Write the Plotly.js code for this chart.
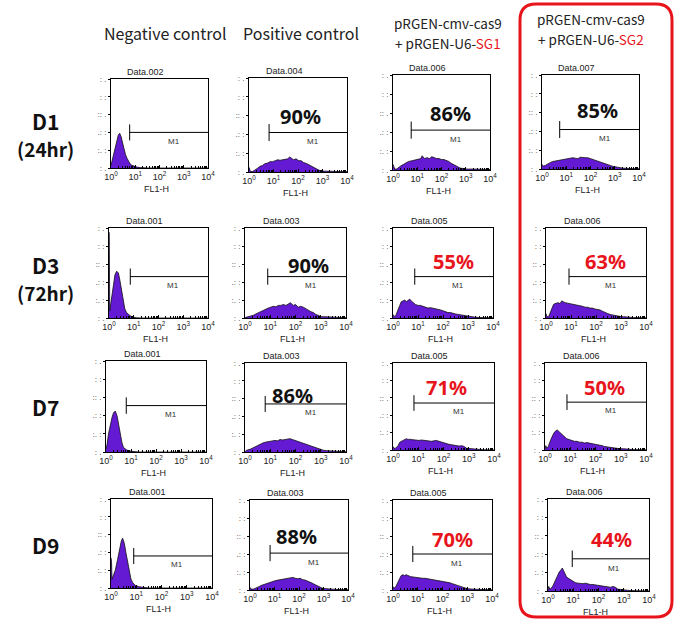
<!DOCTYPE html>
<html><head><meta charset="utf-8">
<script src="https://cdn.plot.ly/plotly-3.0.1.min.js"></script>
<style>html,body{margin:0;padding:0;background:#fff}#chart{width:681px;height:625px}</style>
</head><body><div id="chart"></div>
<script>
// ---------- DATA ----------
const dayLabels = ['D1', 'D3', 'D7', 'D9'];
const dayHours = ['(24hr)', '(72hr)', '', ''];
const dataNames = [
  'Data.002', 'Data.004', 'Data.006', 'Data.007',
  'Data.001', 'Data.003', 'Data.005', 'Data.006',
  'Data.001', 'Data.003', 'Data.005', 'Data.006',
  'Data.001', 'Data.003', 'Data.005', 'Data.006'
];
const tickLabels = ['10<sup>0</sup>', '10<sup>1</sup>', '10<sup>2</sup>', '10<sup>3</sup>', '10<sup>4</sup>'];
const tickDecades = [0, 1, 2, 3, 4];
// percent of cells in gate M1 ('' = not shown)
const percents = ['', '90%', '86%', '85%', '', '90%', '55%', '63%', '', '86%', '71%', '50%', '', '88%', '70%', '44%'];
// gate M1 start (log10 FL1-H) and level (% of plot height)
const gateStart = [0.77, 0.82, 0.75, 0.73, 0.86, 0.9, 0.87, 0.92, 0.81, 0.8, 0.83, 0.87, 0.9, 0.82, 0.8, 0.96];
const gateLevel = [40, 42, 42, 42, 46, 46, 46, 46, 51, 54, 54, 55, 36, 41, 40, 35];

// histograms: x = log10(FL1-H), y = counts as % of full scale
const d1NegX = [0, 0.05, 0.1, 0.15, 0.2, 0.25, 0.3, 0.36, 0.42, 0.48, 0.54, 0.6, 0.66, 0.72, 0.78, 0.86, 0.95, 1.07, 1.2, 1.35, 1.5, 4];
const d1NegY = [3, 9, 14, 20, 27, 33, 37, 39, 35, 28, 21, 15, 11, 8, 5, 3, 2, 1, 0.5, 0.3, 0, 0];
const d1PosX = [0, 0.03, 0.06, 0.15, 0.25, 0.35, 0.45, 0.55, 0.66, 0.76, 0.86, 0.96, 1.07, 1.17, 1.27, 1.37, 1.48, 1.58, 1.66, 1.72, 1.82, 1.92, 2.03, 2.13, 2.23, 2.35, 2.5, 2.62, 2.72, 2.85, 3.0, 3.3, 3.6, 4];
const d1PosY = [5, 2, 0.5, 0.5, 2, 4, 6, 7, 9, 9.5, 11, 11, 12, 13, 12.5, 13, 14, 14, 16, 15, 13, 14, 12, 12, 10, 9, 7, 5, 3.5, 2, 1, 0.8, 0.5, 0.3];
const d1Sg1X = [0, 0.03, 0.07, 0.15, 0.23, 0.33, 0.44, 0.54, 0.64, 0.74, 0.85, 0.95, 1.05, 1.15, 1.2, 1.3, 1.4, 1.5, 1.6, 1.7, 1.8, 1.9, 2.0, 2.1, 2.2, 2.3, 2.4, 2.5, 2.63, 2.77, 2.9, 3.04, 3.3, 3.6, 4];
const d1Sg1Y = [6, 3, 1, 1, 3, 4.5, 6, 7.5, 9, 9.5, 10, 10.5, 11, 12, 15, 12, 13, 12, 14, 13, 12, 12, 11, 11, 10, 9, 7, 6, 4, 2, 1.5, 1, 1, 0.8, 0.5];
const d1Sg2X = [0, 0.05, 0.15, 0.25, 0.35, 0.45, 0.55, 0.66, 0.76, 0.86, 0.96, 1.07, 1.17, 1.27, 1.37, 1.48, 1.58, 1.68, 1.78, 1.89, 2.0, 2.1, 2.2, 2.3, 2.4, 2.5, 2.6, 2.7, 2.8, 2.9, 3.0, 3.1, 3.3, 3.6, 4];
const d1Sg2Y = [5, 3, 4, 6, 7, 8, 8.5, 9, 9.5, 10, 10.5, 11, 11.5, 12, 11.5, 11, 12.5, 12, 12, 12, 11, 10, 9, 8, 7, 6, 5, 4, 3.5, 3, 2.5, 2, 1, 0.5, 0.3];

const d3NegX = [0, 0.01, 0.03, 0.05, 0.1, 0.17, 0.24, 0.31, 0.38, 0.44, 0.51, 0.58, 0.64, 0.71, 0.78, 0.85, 0.98, 1.1, 1.3, 4];
const d3NegY = [95, 95, 8, 12, 25, 40, 48, 52, 50, 42, 30, 18, 10, 6, 4, 2.5, 1, 0.3, 0, 0];
const d3PosX = [0, 0.07, 0.2, 0.33, 0.43, 0.53, 0.63, 0.73, 0.83, 0.92, 1.02, 1.12, 1.22, 1.32, 1.42, 1.52, 1.62, 1.72, 1.8, 1.91, 2.0, 2.11, 2.2, 2.31, 2.41, 2.51, 2.61, 2.71, 2.8, 2.9, 3.0, 3.1, 3.37, 3.7, 4];
const d3PosY = [0.5, 1, 2, 3, 4.5, 6, 7.5, 9, 10, 11, 12, 13, 12.5, 14, 14, 15, 14, 16, 17, 14, 15, 12, 13, 12, 10, 9, 7, 6, 4, 3, 1.5, 1.5, 1, 0.5, 0.3];
const d3Sg1X = [0, 0.03, 0.1, 0.2, 0.27, 0.33, 0.4, 0.47, 0.53, 0.6, 0.67, 0.73, 0.8, 0.9, 1.0, 1.1, 1.2, 1.3, 1.4, 1.5, 1.6, 1.7, 1.8, 1.9, 2.0, 2.1, 2.2, 2.3, 2.4, 2.5, 2.6, 2.7, 2.8, 2.95, 3.07, 3.25, 3.47, 4];
const d3Sg1Y = [4, 2, 2, 8, 14, 18, 19, 20, 18, 20, 21, 19, 17, 15, 14, 14, 13, 12, 11, 11.5, 11, 10.5, 10, 9, 8, 7, 6, 6, 5, 4.5, 4, 3.5, 3, 2, 1.5, 1, 0.5, 0.2];
const d3Sg2X = [0, 0.03, 0.1, 0.17, 0.23, 0.3, 0.36, 0.43, 0.49, 0.56, 0.63, 0.7, 0.76, 0.86, 0.96, 1.06, 1.16, 1.26, 1.36, 1.46, 1.56, 1.66, 1.76, 1.86, 1.96, 2.06, 2.16, 2.26, 2.36, 2.46, 2.56, 2.7, 2.83, 3.0, 3.1, 3.3, 3.5, 4];
const d3Sg2Y = [5, 2, 1, 6, 12, 15, 16, 17, 17, 16, 19, 18, 17, 16.5, 16, 15.5, 15, 14.5, 14, 13, 12, 12, 11, 11, 10, 9.5, 9, 7.5, 6, 5, 4, 3, 2, 1.5, 1.5, 1, 0.5, 0.2];

const d7NegX = [0, 0.04, 0.1, 0.17, 0.24, 0.3, 0.37, 0.44, 0.5, 0.57, 0.64, 0.7, 0.77, 0.84, 0.97, 1.1, 1.3, 4];
const d7NegY = [3, 8, 20, 30, 38, 43, 45, 40, 30, 18, 10, 5, 3, 2, 1, 0.3, 0, 0];
const d7PosX = [0, 0.07, 0.2, 0.3, 0.4, 0.5, 0.6, 0.7, 0.8, 0.9, 1.0, 1.1, 1.19, 1.29, 1.39, 1.49, 1.59, 1.69, 1.78, 1.88, 1.98, 2.08, 2.18, 2.28, 2.38, 2.48, 2.57, 2.67, 2.77, 2.87, 2.97, 3.1, 3.24, 3.45, 3.63, 4];
const d7PosY = [0.5, 2, 3, 4.5, 6, 7.5, 9, 10, 11, 11.5, 12, 12, 13, 12.5, 14, 13.5, 14, 14.5, 15, 14, 13, 12.5, 11, 10, 9, 8, 7, 6, 5, 4, 3, 2, 1.5, 1, 0.5, 0.3];
const d7Sg1X = [0, 0.03, 0.1, 0.2, 0.27, 0.33, 0.4, 0.46, 0.53, 0.6, 0.66, 0.73, 0.83, 0.93, 1.03, 1.13, 1.23, 1.32, 1.42, 1.52, 1.62, 1.72, 1.82, 1.92, 2.02, 2.12, 2.22, 2.32, 2.42, 2.52, 2.62, 2.72, 2.82, 2.91, 3.05, 3.18, 3.4, 3.58, 4];
const d7Sg1Y = [4, 2, 2, 5, 9, 10, 11, 12, 13, 12, 12.5, 12, 11.5, 11, 11, 11.5, 11, 11, 10.5, 10, 10.5, 11, 10, 9, 8.5, 7, 6.5, 6, 5.5, 5, 4.5, 5, 4, 2, 1.5, 1, 0.5, 0.3, 0.1];
const d7Sg2X = [0, 0.03, 0.07, 0.13, 0.23, 0.3, 0.36, 0.43, 0.49, 0.56, 0.63, 0.7, 0.76, 0.86, 0.96, 1.06, 1.16, 1.26, 1.36, 1.46, 1.56, 1.66, 1.76, 1.86, 1.96, 2.06, 2.16, 2.26, 2.36, 2.46, 2.56, 2.7, 2.83, 2.96, 3.1, 3.3, 3.5, 4];
const d7Sg2Y = [1, 5, 2, 4, 12, 17, 20, 22, 23, 21, 19, 17, 15, 13, 12, 11, 10, 10, 9, 9, 8, 8.5, 8, 7.5, 7, 6.5, 6, 5, 4, 3.5, 3, 2.5, 2, 1.5, 1.5, 1, 0.5, 0.2];

const d9NegX = [0, 0.02, 0.04, 0.1, 0.17, 0.26, 0.34, 0.41, 0.46, 0.53, 0.59, 0.66, 0.73, 0.79, 0.86, 0.96, 1.1, 1.29, 1.5, 4];
const d9NegY = [34, 30, 10, 14, 20, 32, 45, 53, 56, 50, 40, 28, 17, 10, 6, 3, 1.5, 0.5, 0, 0];
const d9PosX = [0, 0.05, 0.15, 0.25, 0.35, 0.45, 0.55, 0.65, 0.75, 0.85, 0.95, 1.05, 1.15, 1.25, 1.35, 1.45, 1.55, 1.65, 1.75, 1.85, 1.95, 2.05, 2.15, 2.25, 2.35, 2.45, 2.55, 2.65, 2.75, 2.85, 2.95, 3.1, 3.3, 3.6, 4];
const d9PosY = [3, 1, 1, 2, 3.5, 5, 6, 7, 8, 9, 10, 10.5, 11, 11.5, 12, 12, 12.5, 13, 14, 13, 12.5, 13, 11.5, 11, 10, 9, 7.5, 6, 4.5, 3, 2, 1.5, 1, 0.5, 0.3];
const d9Sg1X = [0, 0.03, 0.1, 0.2, 0.27, 0.33, 0.4, 0.47, 0.53, 0.6, 0.7, 0.8, 0.9, 1.0, 1.1, 1.2, 1.3, 1.4, 1.5, 1.6, 1.7, 1.8, 1.9, 2.0, 2.1, 2.2, 2.3, 2.4, 2.5, 2.6, 2.7, 2.8, 2.9, 3.0, 3.2, 3.5, 4];
const d9Sg1Y = [4, 2, 3, 9, 14, 16, 17, 16, 17, 16, 15, 14.5, 14, 14, 13.5, 13, 13, 12.5, 12, 12, 11.5, 11, 10.5, 10, 9.5, 8.5, 8, 7, 6, 5, 4, 3, 2, 1.5, 1, 0.5, 0.2];
const d9Sg2X = [0, 0.03, 0.07, 0.13, 0.2, 0.26, 0.33, 0.4, 0.45, 0.49, 0.53, 0.57, 0.62, 0.66, 0.72, 0.79, 0.89, 0.99, 1.09, 1.19, 1.29, 1.39, 1.49, 1.58, 1.68, 1.78, 1.88, 1.98, 2.08, 2.18, 2.28, 2.38, 2.48, 2.57, 2.67, 2.77, 2.9, 3.04, 3.25, 3.5, 4];
const d9Sg2Y = [1, 5, 2, 3, 6, 10, 14, 18, 21, 22, 24, 25, 22, 19, 16, 14, 12, 10, 9, 8.5, 8, 8, 8.5, 7.5, 7, 7, 6.5, 6, 5.5, 5, 5, 4.5, 4, 5, 4, 2, 1.5, 1, 0.5, 0.3, 0];

const histX = [d1NegX, d1PosX, d1Sg1X, d1Sg2X, d3NegX, d3PosX, d3Sg1X, d3Sg2X, d7NegX, d7PosX, d7Sg1X, d7Sg2X, d9NegX, d9PosX, d9Sg1X, d9Sg2X];
const histY = [d1NegY, d1PosY, d1Sg1Y, d1Sg2Y, d3NegY, d3PosY, d3Sg1Y, d3Sg2Y, d7NegY, d7PosY, d7Sg1Y, d7Sg2Y, d9NegY, d9PosY, d9Sg1Y, d9Sg2Y];

// ---------- LAYOUT (pixel boxes: left, right, top, bottom) ----------
const W = 681, H = 625;
const boxes = [
  [111, 208, 79, 168], [249, 347, 78, 172], [393, 490, 75, 170], [542, 639, 75, 169],
  [109, 208, 228, 318], [245, 346, 228, 318], [393, 493, 228, 318], [546, 646, 228, 318],
  [106, 206, 361, 452], [245, 346, 363, 452], [393, 494, 363, 450], [545, 646, 363, 450],
  [111, 212, 499, 588], [250, 348, 500, 590], [393, 492, 500, 590], [548, 649, 499, 591]
];
// percent label placement (decade, % height)
const pctPos = [null, [2.1, 59], [2.36, 60], [2.3, 62], null, [2.5, 58], [2.4, 63], [2.36, 63],
  null, [1.9, 63], [2.1, 72], [2.36, 72], null, [1.9, 60], [2.4, 56], [2.5, 56]];
const dayY = [[121, 148], [265, 292], [407, 0], [545, 0]];

// log-decade minor tick positions (2..9 in each decade)
const minorVals = [];
for (let d = 0; d < 4; d++) for (let m = 2; m < 10; m++) minorVals.push(d + Math.log10(m));

const px = v => v / W;
const py = v => 1 - v / H;
const RED = '#e8141c';
const FILL = '#6419d2';
const small = 'Arial, "Liberation Sans", sans-serif';
const kr = '"Noto Sans CJK KR", "Noto Sans", sans-serif';

const traces = [];
const layout = {
  width: W, height: H, margin: {l: 0, r: 0, t: 0, b: 0},
  paper_bgcolor: '#fff', plot_bgcolor: '#fff', showlegend: false,
  annotations: [], shapes: []
};
const ann = o => layout.annotations.push(Object.assign({showarrow: false, xanchor: 'center', yanchor: 'middle'}, o));

for (let i = 0; i < 16; i++) {
  const [l, r, t, b] = boxes[i];
  const sfx = i === 0 ? '' : String(i + 1);
  const xa = 'x' + sfx, ya = 'y' + sfx;
  layout['xaxis' + sfx] = {
    domain: [px(l), px(r)], anchor: ya, range: [0, 4], fixedrange: true,
    tickmode: 'array', tickvals: tickDecades, ticktext: tickLabels,
    tickfont: {family: small, size: 9, color: '#222'}, ticks: 'inside', ticklen: 3,
    tickcolor: '#000', showline: true, mirror: true, linecolor: '#000', linewidth: 1,
    showgrid: false, zeroline: false,
    minor: {tickmode: 'array', tickvals: minorVals, ticks: 'inside', ticklen: 2, tickcolor: '#000', tickwidth: 1, showgrid: false}
  };
  layout['yaxis' + sfx] = {
    domain: [py(b), py(t)], anchor: xa, range: [0, 100], fixedrange: true,
    tickmode: 'array', tickvals: [0, 20, 40, 60, 80, 100], ticktext: [': .', ':. :', '.: :', ':: .', ': :', ': .'],
    tickfont: {family: small, size: 8, color: '#333'}, ticks: 'outside', ticklen: 2, tickcolor: '#000',
    showline: true, mirror: true, linecolor: '#000', linewidth: 1, showgrid: false, zeroline: false
  };
  traces.push({
    type: 'scatter', mode: 'lines', x: histX[i], y: histY[i], xaxis: xa, yaxis: ya,
    fill: 'tozeroy', fillcolor: FILL, line: {color: '#111', width: 0.8}, hoverinfo: 'skip'
  });
  const g = gateStart[i], gl = gateLevel[i];
  traces.push({
    type: 'scatter', mode: 'lines', xaxis: xa, yaxis: ya,
    x: [g, g, null, g, 4], y: [gl - 9, gl + 9, null, gl, gl],
    line: {color: '#000', width: 1}, hoverinfo: 'skip'
  });
  ann({xref: xa, yref: ya, x: 2.6, y: gl - 10, text: 'M1', font: {family: small, size: 8, color: '#333'}});
  ann({xref: 'paper', yref: 'paper', x: px(l + 0.36 * (r - l)), y: py(t - 7),
    text: dataNames[i], font: {family: small, size: 9, color: '#222'}});
  ann({xref: 'paper', yref: 'paper', x: px(l + 0.47 * (r - l)), y: py(b + 21),
    text: 'FL1-H', font: {family: small, size: 9, color: '#222'}});
  if (percents[i]) {
    const col = i % 4;
    const red = (col >= 2 && i >= 4);
    ann({xref: xa, yref: ya, x: pctPos[i][0], y: pctPos[i][1], text: '<b>' + percents[i] + '</b>',
      font: {family: '"Noto Sans", sans-serif', size: 20, color: red ? RED : '#111'}});
  }
}

// column headers
const hdr = (x, y, text, size) => ann({xref: 'paper', yref: 'paper', x: px(x), y: py(y), text,
  font: {family: kr, size, color: '#222'}});
hdr(165, 33, 'Negative control', 16);
hdr(301, 33, 'Positive control', 16);
hdr(448, 23, 'pRGEN-cmv-cas9', 13.5);
hdr(448, 43, '+ pRGEN-U6-<span style="color:' + RED + '">SG1</span>', 13.5);
hdr(591, 19, 'pRGEN-cmv-cas9', 13.5);
hdr(591, 39, '+ pRGEN-U6-<span style="color:' + RED + '">SG2</span>', 13.5);

// row labels
for (let k = 0; k < 4; k++) {
  ann({xref: 'paper', yref: 'paper', x: px(45), y: py(dayY[k][0]), text: '<b>' + dayLabels[k] + '</b>',
    font: {family: kr, size: 21, color: '#111'}});
  if (dayHours[k]) ann({xref: 'paper', yref: 'paper', x: px(45), y: py(dayY[k][1]), text: '<b>' + dayHours[k] + '</b>',
    font: {family: kr, size: 19, color: '#111'}});
}

// red rounded frame around the SG2 column
(function () {
  const x0 = px(520), x1 = px(672), y0 = py(617), y1 = py(4), rx = 16 / W, ry = 16 / H;
  const p = `M${x0 + rx},${y1} L${x1 - rx},${y1} Q${x1},${y1} ${x1},${y1 - ry} L${x1},${y0 + ry} Q${x1},${y0} ${x1 - rx},${y0} ` +
    `L${x0 + rx},${y0} Q${x0},${y0} ${x0},${y0 + ry} L${x0},${y1 - ry} Q${x0},${y1} ${x0 + rx},${y1} Z`;
  layout.shapes.push({type: 'path', xref: 'paper', yref: 'paper', path: p, line: {color: RED, width: 3}, layer: 'above'});
})();

Plotly.newPlot('chart', traces, layout, {staticPlot: true, displayModeBar: false});
</script></body></html>
